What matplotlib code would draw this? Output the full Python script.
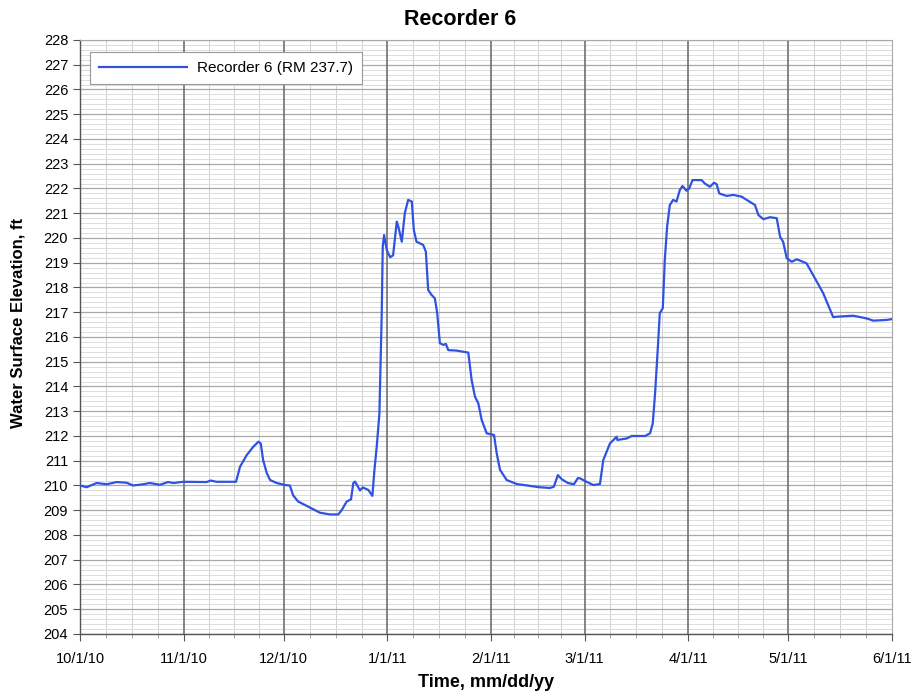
import matplotlib
matplotlib.use("Agg")
import matplotlib.pyplot as plt
import numpy as np
import pandas as pd

plt.rcParams['font.family'] = ['Liberation Sans', 'DejaVu Sans']

# Days since 10/1/2010 and water surface elevation (ft)
days = [0.1, 2.0, 5.0, 8.0, 11.0, 14.0, 15.9, 18.9, 20.9, 23.9, 26.4, 27.9, 30.9,
        37.9, 39.1, 40.9, 46.7, 47.9, 49.9, 51.9, 53.4, 54.1, 54.8, 55.9, 56.9,
        58.9, 61.3, 62.8, 63.8, 65.3, 67.8, 71.8, 74.8, 77.3, 78.3, 79.8, 81.1,
        81.8, 82.3, 83.8, 84.6, 86.3, 87.5, 88.1, 88.8, 89.6, 90.3, 90.6, 91.0,
        91.8, 92.8, 93.7, 94.8, 95.2, 96.3, 97.2, 98.2, 99.3, 99.9, 100.7, 102.7,
        103.5, 104.2, 105.2, 106.2, 106.9, 107.7, 108.7, 109.5, 110.2, 112.7,
        116.2, 117.2, 118.2, 119.2, 120.2, 121.7, 123.9, 124.7, 125.7, 127.7,
        130.7, 137.4, 140.6, 141.8, 143.0, 144.2, 146.0, 147.8, 149.0, 149.6,
        151.6, 153.6, 155.6, 156.6, 158.6, 160.6, 160.8, 163.6, 165.1, 169.1,
        170.6, 171.4, 172.1, 173.0, 173.5, 174.4, 175.0, 175.7, 176.5, 177.5,
        178.5, 179.5, 180.3, 181.5, 182.3, 183.3, 186.0, 187.0, 188.5, 189.7,
        190.5, 191.3, 193.5, 195.5, 198.0, 199.5, 202.0, 203.0, 204.5, 206.5,
        208.5, 209.5, 210.4, 211.5, 213.0, 214.5, 217.4, 219.4, 222.4, 225.4,
        226.4, 231.4, 235.4, 237.4, 241.4, 242.9]
elev = [210.0, 209.93, 210.1, 210.05, 210.14, 210.11, 210.0, 210.05, 210.1, 210.03,
        210.14, 210.1, 210.15, 210.14, 210.2, 210.15, 210.15, 210.76, 211.23,
        211.57, 211.77, 211.7, 211.03, 210.5, 210.22, 210.1, 210.02, 210.0, 209.6,
        209.35, 209.18, 208.9, 208.83, 208.83, 209.0, 209.35, 209.44, 210.1,
        210.16, 209.8, 209.92, 209.82, 209.58, 210.6, 211.57, 212.9, 216.96,
        219.65, 220.12, 219.52, 219.22, 219.3, 220.66, 220.5, 219.85, 221.0,
        221.54, 221.47, 220.32, 219.85, 219.72, 219.45, 217.9, 217.7, 217.56,
        216.96, 215.75, 215.68, 215.72, 215.47, 215.45, 215.37, 214.26, 213.59,
        213.32, 212.65, 212.11, 212.04, 211.3, 210.63, 210.22, 210.06, 209.93,
        209.9, 209.95, 210.42, 210.25, 210.1, 210.05, 210.3, 210.29, 210.15,
        210.02, 210.06, 211.03, 211.7, 211.97, 211.84, 211.9, 212.0, 212.0,
        212.11, 212.51, 213.73, 215.75, 216.96, 217.16, 219.11, 220.46, 221.33,
        221.54, 221.47, 221.94, 222.1, 221.91, 222.0, 222.34, 222.34, 222.2,
        222.07, 222.23, 222.18, 221.8, 221.7, 221.74, 221.67, 221.54, 221.33,
        220.93, 220.76, 220.84, 220.8, 220.05, 219.85, 219.18, 219.04, 219.14,
        218.98, 218.5, 217.77, 216.8, 216.82, 216.86, 216.75, 216.66, 216.69,
        216.72]

start = pd.Timestamp("2010-10-01")
dates = [start + pd.Timedelta(days=d) for d in days]

month_ticks = pd.date_range("2010-10-01", "2011-06-01", freq="MS")
month_labels = ["10/1/10", "11/1/10", "12/1/10", "1/1/11", "2/1/11",
                "3/1/11", "4/1/11", "5/1/11", "6/1/11"]

fig = plt.figure(figsize=(9.15, 6.98), dpi=100)
ax = fig.add_axes([0.0874, 0.0917, 0.9749 - 0.0874, 0.9427 - 0.0917])

ax.plot(dates, elev, color="#2f52e0", lw=1.6, label="Recorder 6 (RM 237.7)",
        zorder=5, solid_joinstyle="round")

ax.set_xlim(month_ticks[0], month_ticks[-1])
ax.set_ylim(204, 228)

ax.set_xticks(month_ticks)
ax.set_xticklabels(month_labels, fontsize=10.5)
minor_x = []
for i in range(len(month_ticks) - 1):
    a, b = month_ticks[i], month_ticks[i + 1]
    for k in (1, 2, 3):
        minor_x.append(a + (b - a) * k / 4)
ax.set_xticks(minor_x, minor=True)

ax.set_yticks(np.arange(204, 229, 1))
ax.set_yticklabels([str(v) for v in range(204, 229)], fontsize=10.5)
ax.set_yticks(np.arange(204, 228.01, 0.2), minor=True)

ax.grid(which="minor", axis="y", color="#dcdcdc", lw=0.7, zorder=0)
ax.grid(which="minor", axis="x", color="#d0d0d0", lw=0.7, zorder=0)
ax.grid(which="major", axis="y", color="#a8a8a8", lw=0.9, zorder=0)
ax.set_axisbelow(True)
for t in month_ticks[1:-1]:
    ax.axvline(t, color="#707070", lw=1.2, zorder=1)

ax.tick_params(axis="both", which="major", direction="out", length=5, color="#555555")
ax.tick_params(axis="x", which="minor", direction="out", length=3, color="#999999")
ax.tick_params(axis="y", which="minor", length=0)
ax.tick_params(axis="x", pad=8)

for s in ("left", "bottom"):
    ax.spines[s].set_color("#555555")
    ax.spines[s].set_linewidth(1.0)
for s in ("top", "right"):
    ax.spines[s].set_color("#a8a8a8")
    ax.spines[s].set_linewidth(0.8)

ax.set_title("Recorder 6", fontsize=15.5, fontweight="bold", pad=11, x=0.468)
ax.set_xlabel("Time, mm/dd/yy", fontsize=13, fontweight="bold", labelpad=6)
ax.set_ylabel("Water Surface Elevation, ft", fontsize=12, fontweight="bold")
ax.yaxis.set_label_coords(-0.067, 0.5236)

leg = ax.legend(loc="upper left", bbox_to_anchor=(0.012, 0.98), borderaxespad=0,
                fontsize=11, handlelength=5.8, handletextpad=0.6, fancybox=False,
                framealpha=1, edgecolor="#999999", borderpad=0.6)
leg.get_frame().set_linewidth(0.8)
leg.set_zorder(10)

fig.savefig("out.png", dpi=100)
